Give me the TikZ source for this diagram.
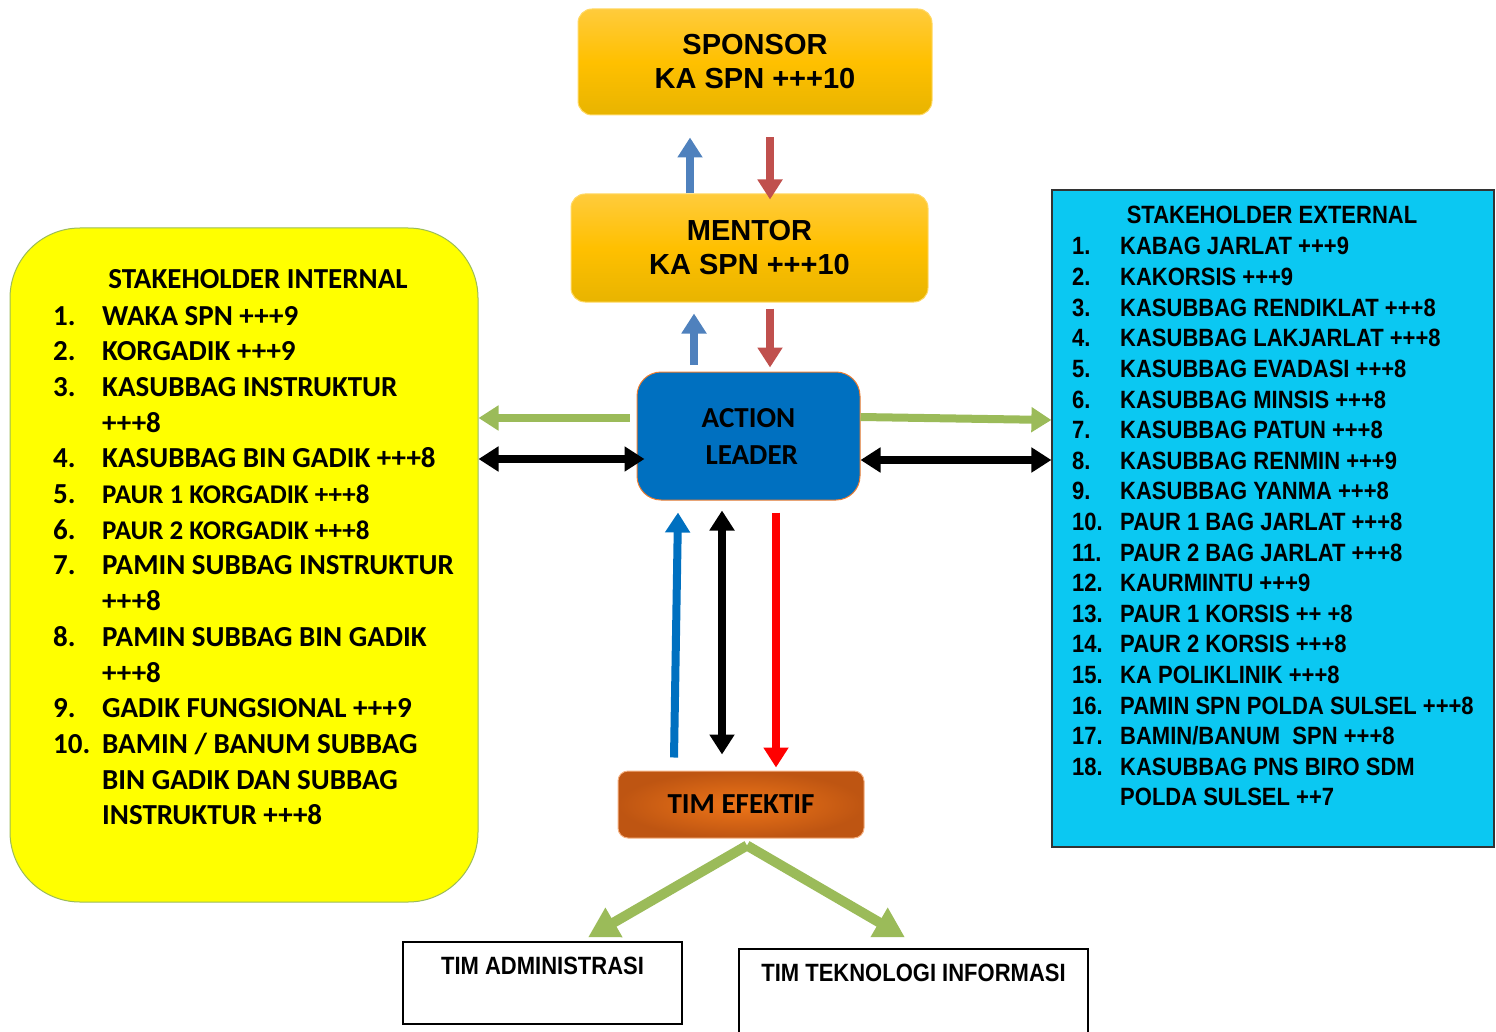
\documentclass[tikz,border=0pt]{standalone}
\usepackage{fontspec}
\setmainfont{Carlito}
\newfontfamily\arialfont{Liberation Sans}
\newfontfamily\narrowfont[FakeStretch=0.88]{Liberation Sans}
\usetikzlibrary{arrows.meta, shadings}
\newcommand\paursize{\fontsize{27}{30}\selectfont}

\definecolor{gold top}{HTML}{FFCB3C}
\definecolor{gold mid}{HTML}{FFC000}
\definecolor{gold bottom}{HTML}{E8B400}
\definecolor{gold border}{HTML}{FFD966}
\definecolor{leader blue}{HTML}{0070C0}
\definecolor{leader border}{HTML}{ED7D31}
\definecolor{tim inner}{HTML}{EE7518}
\definecolor{tim outer}{HTML}{BE5512}
\definecolor{tim border}{HTML}{F4B183}
\definecolor{olive green}{HTML}{9BBB59}
\definecolor{steel blue}{HTML}{4F81BD}
\definecolor{brick red}{HTML}{C0504D}
\definecolor{sky cyan}{HTML}{0BC8F2}
\definecolor{pure yellow}{HTML}{FFFF00}

\begin{document}
\begin{tikzpicture}[x=1pt, y=-1pt,
	goldbox/.style={rectangle, rounded corners=14pt, draw=gold border, line width=1pt,
		top color=gold top, bottom color=gold bottom, middle color=gold mid,
		align=center, font=\arialfont\bfseries\fontsize{29}{34}\selectfont},
	plainbox/.style={rectangle, draw=black, line width=1.2pt, fill=white},
	intitem/.style={inner sep=0pt, anchor=base west, font=\bfseries\fontsize{29}{30}\selectfont},
	extitem/.style={inner sep=0pt, anchor=base west, font=\narrowfont\bfseries\fontsize{25}{28}\selectfont},
	fatarrow/.style={line width=8pt, -{Triangle[width=24pt,length=20pt]}},
	fatboth/.style={line width=8pt, {Triangle[width=24pt,length=20pt]}-{Triangle[width=24pt,length=20pt]}},
	branch/.style={line width=10pt, olive green, -{Triangle[width=32pt,length=30pt]}}
	]
	\useasboundingbox (0,0) rectangle (1496,1032);
	
	% top chain
	\node[goldbox, minimum width=354pt, minimum height=106pt] (sponsor) at (755,62) {SPONSOR\\KA SPN +++10};
	\node[goldbox, minimum width=357pt, minimum height=108pt] (mentor) at (749.5,248) {MENTOR\\KA SPN +++10};
	\node[rectangle, rounded corners=24pt, fill=leader blue, draw=leader border, line width=1pt,
		minimum width=223pt, minimum height=128pt, align=center,
		font=\bfseries\fontsize{29}{37}\selectfont] (action) at (748.5,436) {ACTION\\\ LEADER};
	\node[rectangle, rounded corners=10pt, inner color=tim inner, outer color=tim outer, draw=tim border,
		line width=1pt, minimum width=246pt, minimum height=67pt,
		font=\bfseries\fontsize{29}{30}\selectfont] (tim) at (741,804.5) {TIM EFEKTIF};
	
	% stakeholder boxes
	\node[rectangle, rounded corners=70pt, fill=pure yellow, draw=olive green, line width=1pt,
		minimum width=468pt, minimum height=674pt] (internal) at (244,565) {};
	\node[rectangle, fill=sky cyan, draw=black!80, line width=1.2pt,
		minimum width=442pt, minimum height=657pt] (external) at (1273,518.5) {};
	
	% bottom teams
	\node[plainbox, minimum width=279pt, minimum height=82pt,
		label={[anchor=north, yshift=-12pt, font=\narrowfont\bfseries\fontsize{25}{28}\selectfont]north:TIM ADMINISTRASI}] (admin) at (542.5,983) {};
	\node[plainbox, minimum width=349pt, minimum height=96pt,
		label={[anchor=north, yshift=-12pt, font=\narrowfont\bfseries\fontsize{25}{28}\selectfont]north:TIM TEKNOLOGI INFORMASI}] (ti) at (913.5,997) {};
	
	% internal list
	\node[font=\bfseries\fontsize{29}{30}\selectfont, inner sep=0pt, anchor=base] (intitle) at (258,289) {STAKEHOLDER INTERNAL};
	\begin{scope}
		\clip (0,0) rectangle (456,1032);
		\foreach \num/\txt [count=\i from 0] in {1./WAKA SPN +++9, 2./KORGADIK +++9, 3./KASUBBAG INSTRUKTUR, /+++8,
			4./KASUBBAG BIN GADIK +++8, 5./\paursize PAUR 1 KORGADIK +++8, 6./\paursize PAUR 2 KORGADIK +++8,
			7./PAMIN SUBBAG INSTRUKTUR, /+++8, 8./PAMIN SUBBAG BIN GADIK, /+++8, 9./GADIK FUNGSIONAL +++9,
			10./{BAMIN / BANUM SUBBAG}, /BIN GADIK DAN SUBBAG, /INSTRUKTUR +++8}
		{
			\node[intitem] (inum\i) at (53,{325+35.7*\i}) {\num};
			\node[intitem] (itxt\i) at (102,{325+35.7*\i}) {\txt};
		}
	\end{scope}
	
	% external list
	\node[font=\narrowfont\bfseries\fontsize{25}{28}\selectfont, inner sep=0pt, anchor=base] (extitle) at (1272,224) {STAKEHOLDER EXTERNAL};
	\foreach \num/\txt [count=\i from 0] in {1./KABAG JARLAT +++9, 2./KAKORSIS +++9, 3./KASUBBAG RENDIKLAT +++8,
		4./KASUBBAG LAKJARLAT +++8, 5./KASUBBAG EVADASI +++8, 6./KASUBBAG MINSIS +++8, 7./KASUBBAG PATUN +++8,
		8./KASUBBAG RENMIN +++9, 9./KASUBBAG YANMA +++8, 10./PAUR 1 BAG JARLAT +++8, 11./PAUR 2 BAG JARLAT +++8,
		12./KAURMINTU +++9, 13./PAUR 1 KORSIS ++ +8, 14./PAUR 2 KORSIS +++8, 15./KA POLIKLINIK +++8,
		16./PAMIN SPN POLDA SULSEL +++8, 17./{BAMIN/BANUM\ \ SPN +++8}, 18./KASUBBAG PNS BIRO SDM, /POLDA SULSEL ++7}
	{
		\node[extitem] (enum\i) at (1072,{255+30.6*\i}) {\num};
		\node[extitem] (etxt\i) at (1120,{255+30.6*\i}) {\txt};
	}
	
	% sponsor <-> mentor
	\draw[fatarrow, steel blue] ([xshift=-59.5pt]mentor.north) -- ([xshift=-65pt,yshift=-22pt]sponsor.south);
	\draw[fatarrow, brick red] ([xshift=15pt,yshift=-22pt]sponsor.south) -- ([xshift=20.5pt,yshift=-6pt]mentor.north);
	% mentor <-> action
	\draw[fatarrow, steel blue] ([xshift=-54.5pt,yshift=7pt]action.north) -- ([xshift=-55.5pt,yshift=-11pt]mentor.south);
	\draw[fatarrow, brick red] ([xshift=20.5pt,yshift=-6pt]mentor.south) -- ([xshift=21.5pt,yshift=4pt]action.north);
	
	% action <-> stakeholders
	\draw[fatarrow, olive green] ([xshift=-7pt,yshift=18pt]action.west) -- ([yshift=147pt]internal.east);
	\draw[fatboth] ([yshift=106pt]internal.east) -- ([xshift=8pt,yshift=-23pt]action.west);
	\draw[fatarrow, olive green] ([yshift=19pt]action.east) -- ([yshift=98.5pt]external.west);
	\draw[fatboth] ([yshift=-24pt]action.east) -- ([yshift=58.5pt]external.west);
	
	% action <-> tim
	\draw[fatarrow, leader blue] ([xshift=-67pt,yshift=13pt]tim.north) -- ([xshift=-70.5pt,yshift=-12pt]action.south);
	\draw[fatboth] ([xshift=-26.5pt,yshift=-10pt]action.south) -- ([xshift=-19pt,yshift=16pt]tim.north);
	\draw[fatarrow, red] ([xshift=27.5pt,yshift=-12pt]action.south) -- ([xshift=35pt,yshift=3pt]tim.north);
	
	% tim -> teams
	\draw[branch] ([xshift=6pt,yshift=-7pt]tim.south) -- ([xshift=45.5pt,yshift=4pt]admin.north);
	\draw[branch] ([xshift=6pt,yshift=-7pt]tim.south) -- ([xshift=-8.5pt,yshift=11pt]ti.north);
	
\end{tikzpicture}
\end{document}
